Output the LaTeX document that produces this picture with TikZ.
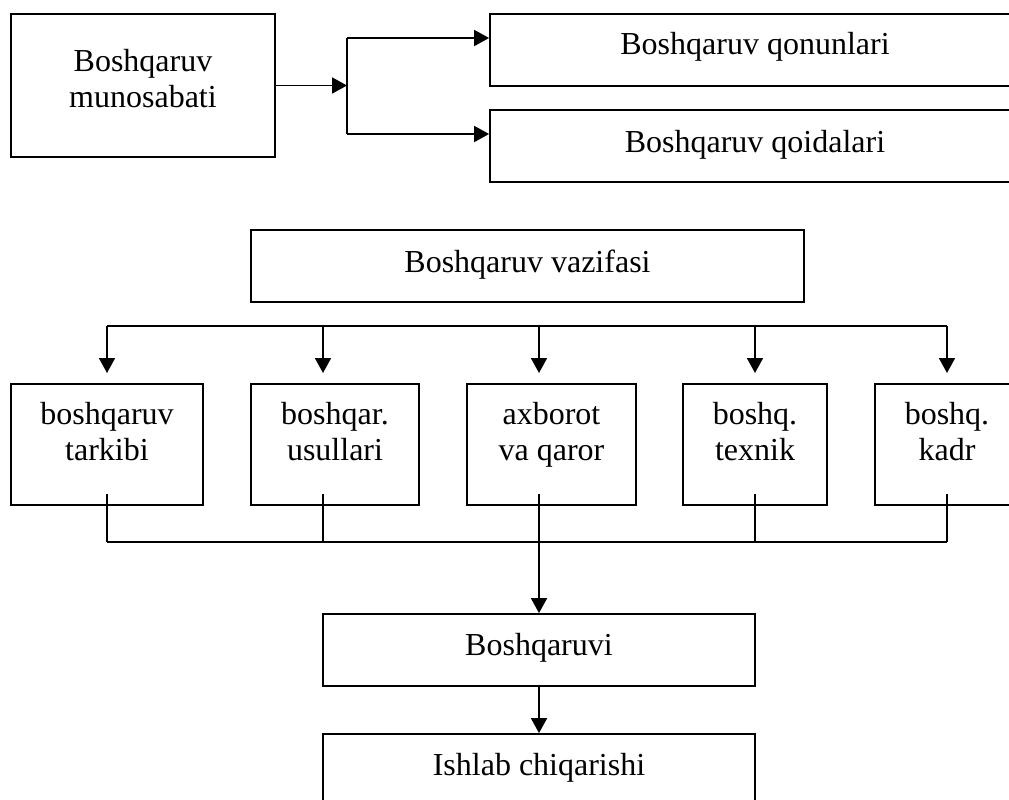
\documentclass[tikz,border=0pt]{standalone}
\usepackage{fontspec}
\setmainfont{Liberation Serif}
\usetikzlibrary{arrows.meta}

\tikzset{
  box/.style={draw, line width=1.8pt, rectangle, inner sep=0pt},
  lbl/.style={anchor=base, inner sep=0pt, font=\fontsize{32}{36}\selectfont},
  wire/.style={line width=1.8pt},
  arr/.style={line width=1.8pt, -{Triangle[length=15pt,width=16pt]}},
}
\newcommand{\twoline}[2]{\begin{tabular}[t]{@{}c@{}}#1\\#2\end{tabular}}

\begin{document}
\begin{tikzpicture}[x=1pt, y=-1pt]
\useasboundingbox (0,0) rectangle (1009,800);
\clip (0,0) rectangle (1009,800);

% ---- top block ----
\node[box, minimum width=264pt, minimum height=143pt] (mun) at (143,85.5) {};
\node[lbl] (munT) at (143,71) {\twoline{Boshqaruv}{munosabati}};

\node[box, minimum width=530pt, minimum height=72pt] (qon) at (755,50) {};
\node[lbl] (qonT) at (755,55) {Boshqaruv qonunlari};

\node[box, minimum width=530pt, minimum height=72pt] (qoi) at (755,146) {};
\node[lbl] (qoiT) at (755,152) {Boshqaruv qoidalari};

\coordinate (j0) at (347,85.5);
\coordinate (ja) at (347,38);
\coordinate (jb) at (347,134);
\draw[arr] (mun.east) -- (j0);
\draw[wire] (ja) -- (jb);
\draw[arr] (ja) -- (ja -| qon.west);
\draw[arr] (jb) -- (jb -| qoi.west);

% ---- functions of management ----
\node[box, minimum width=553pt, minimum height=72pt] (vaz) at (527.5,266) {};
\node[lbl] (vazT) at (527.5,272) {Boshqaruv vazifasi};

\node[box, minimum width=192pt, minimum height=121pt] (t1) at (107,444.5) {};
\node[box, minimum width=168pt, minimum height=121pt] (t2) at (335,444.5) {};
\node[box, minimum width=169pt, minimum height=121pt] (t3) at (551.5,444.5) {};
\node[box, minimum width=144pt, minimum height=121pt] (t4) at (755,444.5) {};
\node[box, minimum width=144pt, minimum height=121pt] (t5) at (947,444.5) {};

\node[lbl] (t1T) at (107,424) {\twoline{boshqaruv}{tarkibi}};
\node[lbl] (t2T) at (335,424) {\twoline{boshqar.}{usullari}};
\node[lbl] (t3T) at (551.5,424) {\twoline{axborot}{va qaror}};
\node[lbl] (t4T) at (755,424) {\twoline{boshq.}{texnik}};
\node[lbl] (t5T) at (947,424) {\twoline{boshq.}{kadr}};

% upper bus and its drops
\foreach \i/\x in {1/107, 2/323, 3/539, 4/755, 5/947} {
  \coordinate (u\i) at (\x,326);
  \coordinate (h\i) at (\x,373);
  \coordinate (s\i) at (\x,494);
  \coordinate (l\i) at (\x,542);
}
\draw[wire] (u1) -- (u5);
\foreach \i in {1,...,5} { \draw[arr] (u\i) -- (h\i); }

% lower bus collecting the boxes
\draw[wire] (l1) -- (l5);
\foreach \i in {1,...,5} { \draw[wire] (s\i) -- (l\i); }

% ---- result chain ----
\node[box, minimum width=432pt, minimum height=72pt] (bq) at (539,650) {};
\node[lbl] (bqT) at (539,655) {Boshqaruvi};

\node[box, minimum width=432pt, minimum height=72pt] (ish) at (539,770) {};
\node[lbl] (ishT) at (539,775) {Ishlab chiqarishi};

\draw[arr] (l3) -- (bq.north);
\draw[arr] (bq.south) -- (ish.north);
\end{tikzpicture}
\end{document}
